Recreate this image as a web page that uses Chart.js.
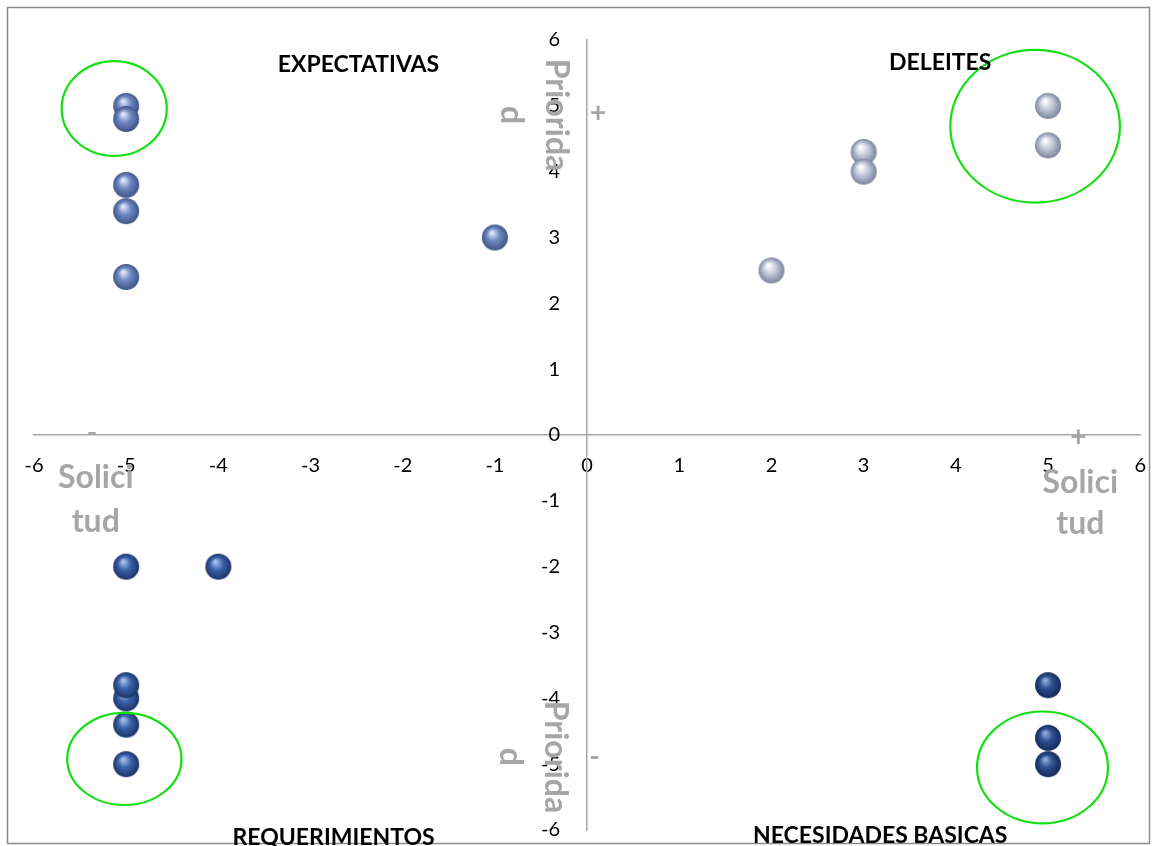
<!DOCTYPE html>
<html>
<head>
<meta charset="utf-8">
<script src="https://cdn.jsdelivr.net/npm/chart.js@4/dist/chart.umd.min.js"></script>
<style>
  html, body { margin: 0; padding: 0; background: #fff; overflow: hidden; }
  #wrap { position: relative; width: 1158px; height: 846px; overflow: hidden; }
</style>
</head>
<body>
<div id="wrap"><canvas id="chart" width="1165" height="846"></canvas></div>
<script>
// quadrant data (Solicitud, Prioridad)
const expectativasX = [-5, -5, -5, -5, -5, -1];
const expectativasY = [5.0, 4.8, 3.8, 3.4, 2.4, 3.0];
const deleitesX = [2, 3, 3, 5, 5];
const deleitesY = [2.5, 4.3, 4.0, 5.0, 4.4];
const requerimientosX = [-5, -4, -5, -5, -5, -5];
const requerimientosY = [-2.0, -2.0, -4.0, -3.8, -4.4, -5.0];
const necesidadesX = [5, 5, 5];
const necesidadesY = [-3.8, -4.6, -5.0];

const tickValues = [-6, -5, -4, -3, -2, -1, 0, 1, 2, 3, 4, 5, 6];

// green highlight ellipses: center x, center y, radius x, radius y (data units)
const circleCx = [-5.13, 4.86, -5.02, 4.94];
const circleCy = [4.96, 4.69, -4.92, -5.05];
const circleRx = [0.57, 0.92, 0.62, 0.71];
const circleRy = [0.72, 1.16, 0.70, 0.85];

// quadrant names
const quadrantNames = ['EXPECTATIVAS', 'DELEITES', 'REQUERIMIENTOS', 'NECESIDADES BASICAS'];
const quadrantX = [-2.48, 3.83, -2.75, 3.18];
const quadrantY = [5.63, 5.66, -6.11, -6.08];

const toPoints = (xs, ys) => xs.map((x, i) => ({ x: x, y: ys[i] }));

// little shaded ball used as point style
const makeSphere = (base, light, dark) => {
  const size = 28;
  const c = document.createElement('canvas');
  c.width = size;
  c.height = size;
  const ctx = c.getContext('2d');
  const g = ctx.createRadialGradient(11, 9, 1, 14, 14, 13);
  g.addColorStop(0, light);
  g.addColorStop(0.45, base);
  g.addColorStop(1, dark);
  ctx.fillStyle = g;
  ctx.beginPath();
  ctx.arc(14, 14, 13, 0, Math.PI * 2);
  ctx.fill();
  return c;
};

const sphereTopLeft = makeSphere('#7089c3', '#dfe7fa', '#3f5488');
const sphereTopRight = makeSphere('#c3cadb', '#ffffff', '#7a849c');
const sphereBottomLeft = makeSphere('#3b62ab', '#a6c0ee', '#1c3468');
const sphereBottomRight = makeSphere('#2d4f90', '#8ea8da', '#142a58');

const gray = '#a6a6a6';

const overlayPlugin = {
  id: 'overlay',
  beforeDraw: (chart) => {
    const ctx = chart.ctx;
    ctx.save();
    ctx.strokeStyle = '#8c8c8c';
    ctx.lineWidth = 1.5;
    ctx.strokeRect(7.5, 7.5, 1142, 836);
    ctx.restore();
  },
  afterDatasetsDraw: (chart) => {
    const ctx = chart.ctx;
    const xs = chart.scales.x;
    const ys = chart.scales.y;
    const ux = xs.getPixelForValue(1) - xs.getPixelForValue(0);
    const uy = ys.getPixelForValue(0) - ys.getPixelForValue(1);
    ctx.save();

    // y tick labels, right aligned left of the vertical axis
    ctx.fillStyle = '#000';
    ctx.font = '20px Lato';
    ctx.textAlign = 'right';
    ctx.textBaseline = 'middle';
    ys.ticks.forEach((t) => {
      ctx.fillText(String(t.value), xs.getPixelForValue(0) - 27, ys.getPixelForValue(t.value));
    });

    // ellipses
    ctx.strokeStyle = '#11e011';
    ctx.lineWidth = 2.2;
    circleCx.forEach((cx, i) => {
      ctx.beginPath();
      ctx.ellipse(xs.getPixelForValue(cx), ys.getPixelForValue(circleCy[i]),
        circleRx[i] * ux, circleRy[i] * uy, 0, 0, Math.PI * 2);
      ctx.stroke();
    });

    // quadrant titles
    ctx.fillStyle = '#000';
    ctx.font = 'bold 23px Lato';
    ctx.textAlign = 'center';
    quadrantNames.forEach((name, i) => {
      ctx.fillText(name, xs.getPixelForValue(quadrantX[i]), ys.getPixelForValue(quadrantY[i]));
    });

    // axis titles
    ctx.fillStyle = gray;
    ctx.font = 'bold 32px Lato';
    [[-5.33, -0.65, -1.31], [5.35, -0.73, -1.34]].forEach((p) => {
      ctx.fillText('Solici', xs.getPixelForValue(p[0]), ys.getPixelForValue(p[1]));
      ctx.fillText('tud', xs.getPixelForValue(p[0]), ys.getPixelForValue(p[2]));
    });
    [[-0.33, 4.86], [-0.35, -4.89]].forEach((p) => {
      ctx.save();
      ctx.translate(xs.getPixelForValue(p[0]), ys.getPixelForValue(p[1]));
      ctx.rotate(Math.PI / 2);
      ctx.fillText('Priorida', 0, 0);
      ctx.fillText('d', 0, 45);
      ctx.restore();
    });

    // signs
    ctx.font = 'bold 28px Lato';
    ctx.fillText('+', xs.getPixelForValue(0.12), ys.getPixelForValue(4.89));
    ctx.fillText('+', xs.getPixelForValue(5.33), ys.getPixelForValue(-0.03));
    ctx.fillText('-', xs.getPixelForValue(-5.37), ys.getPixelForValue(0.03));
    ctx.fillText('-', xs.getPixelForValue(0.08), ys.getPixelForValue(-4.89));
    ctx.restore();
  }
};

new Chart(document.getElementById('chart'), {
  type: 'scatter',
  data: {
    datasets: [
      { label: 'Expectativas', data: toPoints(expectativasX, expectativasY), pointStyle: sphereTopLeft },
      { label: 'Deleites', data: toPoints(deleitesX, deleitesY), pointStyle: sphereTopRight },
      { label: 'Requerimientos', data: toPoints(requerimientosX, requerimientosY), pointStyle: sphereBottomLeft },
      { label: 'Necesidades', data: toPoints(necesidadesX, necesidadesY), pointStyle: sphereBottomRight }
    ]
  },
  options: {
    responsive: false,
    animation: false,
    layout: { padding: { left: 34, top: 40, right: 0, bottom: 16 } },
    plugins: {
      legend: { display: false },
      tooltip: { enabled: false }
    },
    scales: {
      x: {
        type: 'linear',
        position: { y: 0 },
        min: -6,
        max: 6,
        afterBuildTicks: (axis) => { axis.ticks = tickValues.map((v) => ({ value: v })); },
        grid: { display: false, drawTicks: false },
        border: { display: true, color: '#a6a6a6', width: 1.5 },
        ticks: { color: '#000', font: { family: 'Lato', size: 20 }, padding: 19, maxRotation: 0 }
      },
      y: {
        type: 'linear',
        position: { x: 0 },
        min: -6,
        max: 6,
        afterBuildTicks: (axis) => { axis.ticks = tickValues.map((v) => ({ value: v })); },
        grid: { display: false, drawTicks: false },
        border: { display: true, color: '#a6a6a6', width: 1.5 },
        ticks: { display: false }
      }
    }
  },
  plugins: [overlayPlugin]
});
</script>
</body>
</html>
